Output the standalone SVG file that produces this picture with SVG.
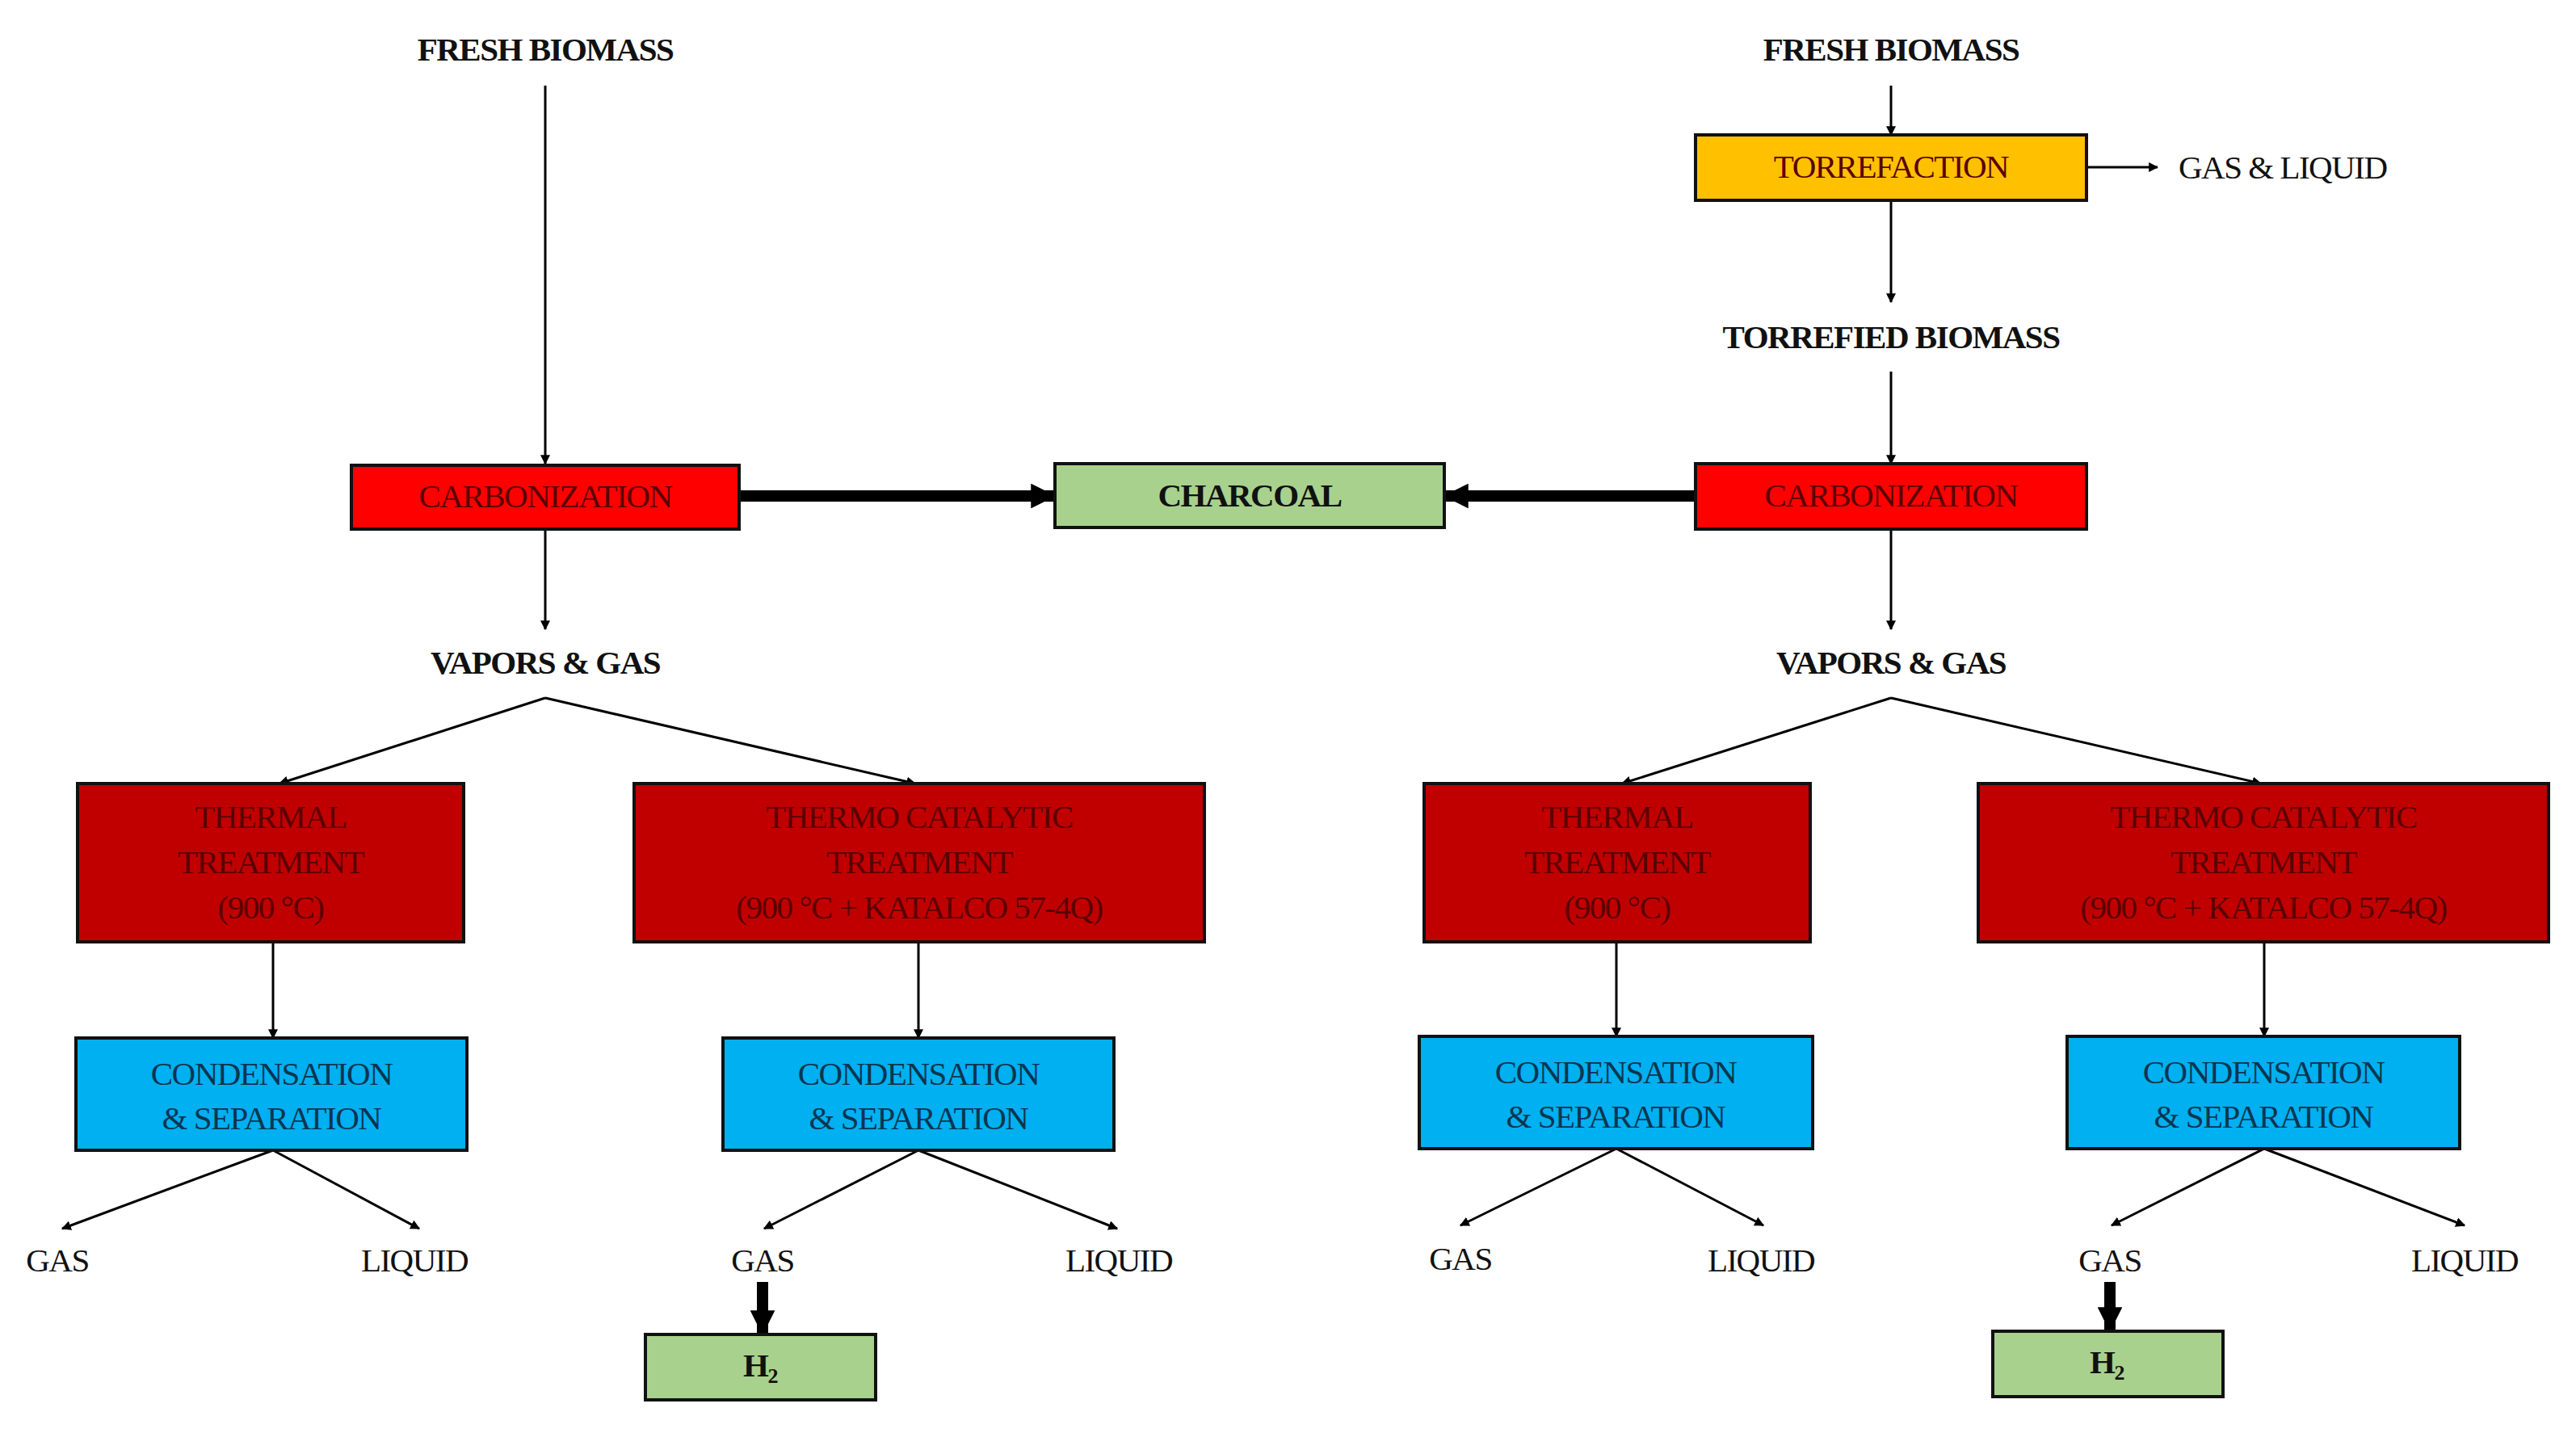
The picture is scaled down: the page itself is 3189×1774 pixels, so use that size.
<svg xmlns="http://www.w3.org/2000/svg" width="3189" height="1774" viewBox="0 0 3189 1774">
<defs>
<marker id="a" viewBox="0 0 10 10" refX="9" refY="5" markerWidth="4" markerHeight="4" orient="auto"><path d="M0,0L10,5L0,10z" fill="#000"/></marker>
<marker id="b" viewBox="0 0 10 10" refX="9" refY="5" markerWidth="2.2" markerHeight="2.2" orient="auto"><path d="M0,0L10,5L0,10z" fill="#000"/></marker>
</defs>
<style>
text{font-family:"Liberation Serif",serif;font-size:41px;text-anchor:middle;letter-spacing:-1.5px}
.lb{font-weight:bold;fill:#111}
.pl{fill:#111}
.bx{stroke:#111;stroke-width:4}
.red{fill:#FF0000}.dred{fill:#C00000}.blue{fill:#00B0F0}.green{fill:#A9D18E}.orange{fill:#FFC000}
.tr{fill:#5a0000}.tb{fill:#0a3550}.tg{fill:#111;font-weight:bold}
.c{stroke:#000;stroke-width:3;fill:none;marker-end:url(#a)}
.t{stroke:#000;stroke-width:14;fill:none;marker-end:url(#b)}
</style>
<rect width="3189" height="1774" fill="#fff"/>
<g id="connectors">
<line class="c" x1="675" y1="106" x2="675" y2="574"/>
<line class="t" x1="915" y1="614" x2="1304" y2="614"/>
<line class="t" x1="2099" y1="614" x2="1790" y2="614"/>
<line class="c" x1="675" y1="655" x2="675" y2="779"/>
<line class="c" x1="675" y1="864" x2="346" y2="970"/>
<line class="c" x1="675" y1="864" x2="1133" y2="970"/>
<line class="c" x1="338" y1="1166" x2="338" y2="1285"/>
<line class="c" x1="1137" y1="1166" x2="1137" y2="1285"/>
<line class="c" x1="338" y1="1424" x2="77" y2="1521"/>
<line class="c" x1="338" y1="1424" x2="519" y2="1521"/>
<line class="c" x1="1137" y1="1424" x2="946" y2="1521"/>
<line class="c" x1="1137" y1="1424" x2="1383" y2="1521"/>
<line class="t" x1="944" y1="1587" x2="944" y2="1650"/>
<line class="c" x1="2341" y1="106" x2="2341" y2="167"/>
<line class="c" x1="2583" y1="207" x2="2671" y2="207"/>
<line class="c" x1="2341" y1="248" x2="2341" y2="374"/>
<line class="c" x1="2341" y1="460" x2="2341" y2="574"/>
<line class="c" x1="2341" y1="655" x2="2341" y2="779"/>
<line class="c" x1="2341" y1="864" x2="2008" y2="970"/>
<line class="c" x1="2341" y1="864" x2="2799" y2="970"/>
<line class="c" x1="2001" y1="1166" x2="2001" y2="1283"/>
<line class="c" x1="2803" y1="1166" x2="2803" y2="1283"/>
<line class="c" x1="2001" y1="1422" x2="1808" y2="1517"/>
<line class="c" x1="2001" y1="1422" x2="2183" y2="1517"/>
<line class="c" x1="2803" y1="1422" x2="2614" y2="1517"/>
<line class="c" x1="2803" y1="1422" x2="3051" y2="1517"/>
<line class="t" x1="2612" y1="1587" x2="2612" y2="1646"/>
</g>
<g id="fresh1"><text class="lb" x="675" y="75">FRESH BIOMASS</text></g>
<g id="carb1"><rect class="bx red" x="435" y="576" width="480" height="79"/><text class="tr" x="675" y="628">CARBONIZATION</text></g>
<g id="charcoal"><rect class="bx green" x="1306" y="574" width="482" height="79"/><text class="tg" x="1547" y="627">CHARCOAL</text></g>
<g id="vapors1"><text class="lb" x="675" y="834">VAPORS &amp; GAS</text></g>
<g id="thermal1"><rect class="bx dred" x="96" y="970" width="478" height="196"/><text class="tr" x="335" y="1025">THERMAL</text><text class="tr" x="335" y="1081">TREATMENT</text><text class="tr" x="335" y="1137">(900 °C)</text></g>
<g id="thermo1"><rect class="bx dred" x="785" y="970" width="706" height="196"/><text class="tr" x="1138" y="1025">THERMO CATALYTIC</text><text class="tr" x="1138" y="1081">TREATMENT</text><text class="tr" x="1138" y="1137">(900 °C + KATALCO 57-4Q)</text></g>
<g id="cond1"><rect class="bx blue" x="94" y="1285" width="484" height="139"/><text class="tb" x="336" y="1343">CONDENSATION</text><text class="tb" x="336" y="1398">&amp; SEPARATION</text></g>
<g id="cond2"><rect class="bx blue" x="895" y="1285" width="484" height="139"/><text class="tb" x="1137" y="1343">CONDENSATION</text><text class="tb" x="1137" y="1398">&amp; SEPARATION</text></g>
<g id="gas1"><text class="pl" x="71" y="1574">GAS</text></g>
<g id="liq1"><text class="pl" x="513" y="1574">LIQUID</text></g>
<g id="gas2"><text class="pl" x="944" y="1574">GAS</text></g>
<g id="liq2"><text class="pl" x="1385" y="1574">LIQUID</text></g>
<g id="h2a"><rect class="bx green" x="799" y="1652" width="285" height="81"/><text class="tg" x="941" y="1704">H<tspan font-size="26" dy="8">2</tspan></text></g>
<g id="fresh2"><text class="lb" x="2341" y="75">FRESH BIOMASS</text></g>
<g id="torr"><rect class="bx orange" x="2099" y="167" width="484" height="81"/><text class="tr" x="2341" y="220">TORREFACTION</text></g>
<g id="gasliq"><text class="pl" x="2697" y="221" style="text-anchor:start">GAS &amp; LIQUID</text></g>
<g id="torrefied"><text class="lb" x="2341" y="431">TORREFIED BIOMASS</text></g>
<g id="carb2"><rect class="bx red" x="2099" y="574" width="484" height="81"/><text class="tr" x="2341" y="627">CARBONIZATION</text></g>
<g id="vapors2"><text class="lb" x="2341" y="834">VAPORS &amp; GAS</text></g>
<g id="thermal2"><rect class="bx dred" x="1763" y="970" width="478" height="196"/><text class="tr" x="2002" y="1025">THERMAL</text><text class="tr" x="2002" y="1081">TREATMENT</text><text class="tr" x="2002" y="1137">(900 °C)</text></g>
<g id="thermo2"><rect class="bx dred" x="2449" y="970" width="706" height="196"/><text class="tr" x="2802" y="1025">THERMO CATALYTIC</text><text class="tr" x="2802" y="1081">TREATMENT</text><text class="tr" x="2802" y="1137">(900 °C + KATALCO 57-4Q)</text></g>
<g id="cond3"><rect class="bx blue" x="1757" y="1283" width="487" height="139"/><text class="tb" x="2000" y="1341">CONDENSATION</text><text class="tb" x="2000" y="1396">&amp; SEPARATION</text></g>
<g id="cond4"><rect class="bx blue" x="2559" y="1283" width="486" height="139"/><text class="tb" x="2802" y="1341">CONDENSATION</text><text class="tb" x="2802" y="1396">&amp; SEPARATION</text></g>
<g id="gas3"><text class="pl" x="1808" y="1572">GAS</text></g>
<g id="liq3"><text class="pl" x="2180" y="1574">LIQUID</text></g>
<g id="gas4"><text class="pl" x="2612" y="1574">GAS</text></g>
<g id="liq4"><text class="pl" x="3051" y="1574">LIQUID</text></g>
<g id="h2b"><rect class="bx green" x="2467" y="1648" width="285" height="81"/><text class="tg" x="2608" y="1700">H<tspan font-size="26" dy="8">2</tspan></text></g>
</svg>
